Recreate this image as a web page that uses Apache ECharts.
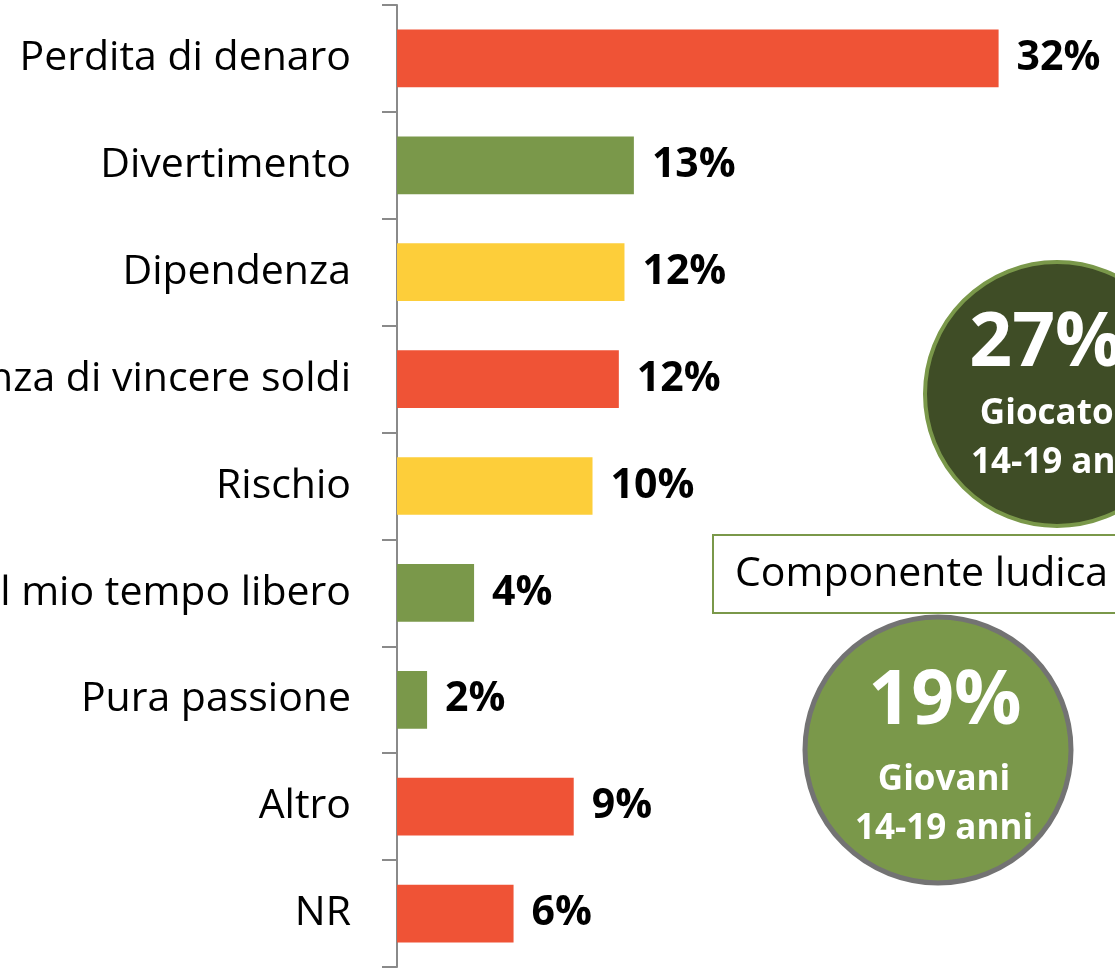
<!DOCTYPE html>
<html>
<head>
<meta charset="utf-8">
<script src="https://cdn.jsdelivr.net/npm/echarts@6/dist/echarts.min.js"></script>
<style>
  html, body { margin: 0; padding: 0; background: #fff; }
  #main { width: 1115px; height: 972px; }
</style>
</head>
<body>
<div id="main"></div>
<script>
// categories, top to bottom
var categories = ['Perdita di denaro', 'Divertimento', 'Dipendenza', 'Speranza di vincere soldi',
    'Rischio', 'Occupare il mio tempo libero', 'Pura passione', 'Altro', 'NR'];
// values in %
var values = [32.0, 12.6, 12.1, 11.8, 10.4, 4.1, 1.6, 9.4, 6.2];
var barColors = ['#ef5336', '#7a984a', '#fdce3a', '#ef5336', '#fdce3a', '#7a984a', '#7a984a', '#ef5336', '#ef5336'];

var font = 'Open Sans';
var chart = echarts.init(document.getElementById('main'));

var option = {
    backgroundColor: '#fff',
    animation: false,
    grid: { left: 397, top: 5, bottom: 5, width: 658, containLabel: false, outerBoundsMode: 'none' },
    xAxis: {
        type: 'value', min: 0, max: 35,
        show: false
    },
    yAxis: {
        type: 'category',
        inverse: true,
        data: categories,
        axisLine: { show: true, lineStyle: { color: '#8a8a8a', width: 2 } },
        axisTick: { show: true, length: 15, lineStyle: { color: '#8a8a8a', width: 2 } },
        axisLabel: { margin: 46, color: '#000', fontSize: 41, fontFamily: font }
    },
    series: [{
        type: 'bar',
        barCategoryGap: '46%',
        data: values.map(function (v, i) {
            return { value: v, itemStyle: { color: barColors[i] } };
        }),
        label: {
            show: true, position: 'right', distance: 18,
            color: '#000', fontSize: 41, fontWeight: 'bold', fontFamily: font,
            formatter: function (p) { return Math.round(p.value) + '%'; }
        }
    }],
    graphic: [
        {
            type: 'circle', shape: { cx: 1057, cy: 394, r: 132 },
            style: { fill: '#3f4d26', stroke: '#7a984a', lineWidth: 4 }
        },
        { type: 'text', x: 1046, y: 345, style: { text: '27%', fill: '#fff', font: 'bold 75px "Open Sans"', textAlign: 'center', textVerticalAlign: 'middle' } },
        { type: 'text', x: 1060, y: 414, style: { text: 'Giocatori', fill: '#fff', font: 'bold 35px "Open Sans"', textAlign: 'center', textVerticalAlign: 'middle' } },
        { type: 'text', x: 1060, y: 463, style: { text: '14-19 anni', fill: '#fff', font: 'bold 35px "Open Sans"', textAlign: 'center', textVerticalAlign: 'middle' } },
        {
            type: 'rect', shape: { x: 713, y: 535, width: 420, height: 78 },
            style: { fill: '#fff', stroke: '#7a984a', lineWidth: 2 }
        },
        { type: 'text', x: 735, y: 574, style: { text: 'Componente ludica', fill: '#000', font: '41px "Open Sans"', textAlign: 'left', textVerticalAlign: 'middle' } },
        {
            type: 'circle', shape: { cx: 938, cy: 750, r: 133 },
            style: { fill: '#7a984a', stroke: '#737373', lineWidth: 5 }
        },
        { type: 'text', x: 945, y: 703, style: { text: '19%', fill: '#fff', font: 'bold 75px "Open Sans"', textAlign: 'center', textVerticalAlign: 'middle' } },
        { type: 'text', x: 944, y: 780, style: { text: 'Giovani', fill: '#fff', font: 'bold 35px "Open Sans"', textAlign: 'center', textVerticalAlign: 'middle' } },
        { type: 'text', x: 944, y: 829, style: { text: '14-19 anni', fill: '#fff', font: 'bold 35px "Open Sans"', textAlign: 'center', textVerticalAlign: 'middle' } }
    ]
};
chart.setOption(option);
</script>
</body>
</html>
